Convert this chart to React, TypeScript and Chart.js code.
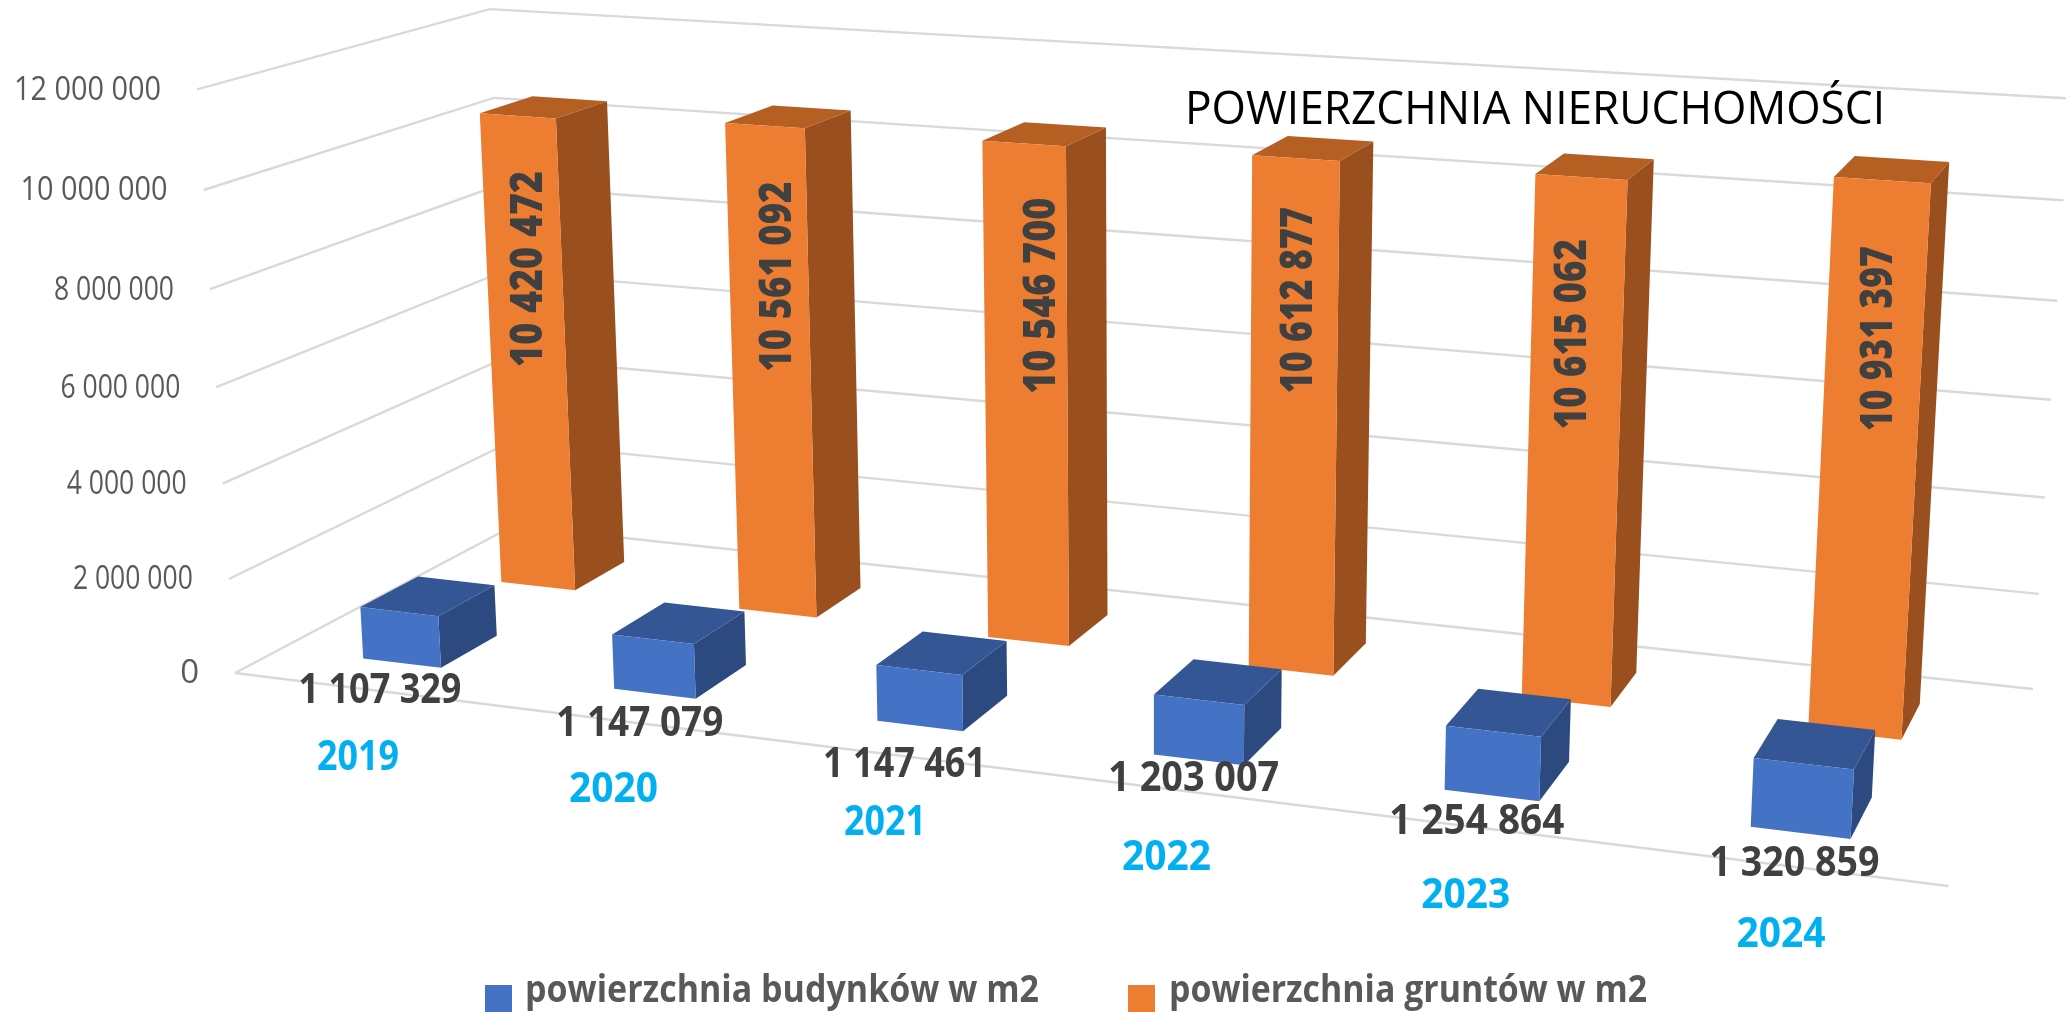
import React, { useEffect, useRef } from "react";
import { Chart, registerables } from "chart.js";

Chart.register(...registerables);

const categories = ["2019", "2020", "2021", "2022", "2023", "2024"];
const budynki = [1107329, 1147079, 1147461, 1203007, 1254864, 1320859];
const grunty = [10420472, 10561092, 10546700, 10612877, 10615062, 10931397];
const seriesNames = ["powierzchnia budynków w m2", "powierzchnia gruntów w m2"];
const titleText = "POWIERZCHNIA NIERUCHOMOŚCI";

const FONT = '"Open Sans", sans-serif';
const GRID = "#D9D9D9";
const FACES = [
  { front: "#4472C4", side: "#2C4A80", top: "#345694" },
  { front: "#ED7D31", side: "#9A501E", top: "#B55F23" },
];

// Perspective frame: floor corners on screen, and where verticals converge.
const FL = [235, 673], FR = [1948.6, 886], BR = [2033, 689], BL = [513, 526];
const VP = [1153, 14772];
const TOP_FL = [197, 89];
const RIGHT_LIFT = 3.5;
const BAR_SHIFT = -0.001;
// depth range of each row on the floor (0 = front, 1 = back)
const ROWS = [[0.15, 0.35], [0.65, 0.85]];
// hand-read placement of labels against their bars
const LOW_LABEL_OFFSET = [[-22, 28], [-15, 30], [-15.5, 39], [-5, 19], [-15, 27], [-6, 31]];
const LOW_LABEL_WIDTH = [163, 167, 163, 171, 175, 170];
const TALL_LABEL_OFFSET = [[1.5, -86], [7, -97], [16, -101], [6, -119], [-0.5, -110], [11.5, -124]];
const TALL_LABEL_WIDTH = [196, 190, 196, 186, 190, 185];
const CATEGORY_LABEL_DX = [2, 0.5, 2, -0.5, 0, 0];
const CATEGORY_LABEL_WIDTH = [82, 89, 82, 89, 89, 89];

function makeProjector() {
  const [x0, y0] = FL, [x1, y1] = FR, [x2, y2] = BR, [x3, y3] = BL;
  const dx1 = x1 - x2, dx2 = x3 - x2, sx = x0 - x1 + x2 - x3;
  const dy1 = y1 - y2, dy2 = y3 - y2, sy = y0 - y1 + y2 - y3;
  const den = dx1 * dy2 - dx2 * dy1;
  const g = (sx * dy2 - dx2 * sy) / den;
  const h = (dx1 * sy - sx * dy1) / den;
  const a = x1 - x0 + g * x1, b = x3 - x0 + h * x3, c = x0;
  const d = y1 - y0 + g * y1, e = y3 - y0 + h * y3, f = y0;
  const s = (TOP_FL[0] - x0) / (VP[0] - TOP_FL[0]);
  return (u: number, w: number, v: number) => {
    const q = g * u + h * w + 1 + v * s;
    return [
      (a * u + b * w + c + v * s * VP[0]) / q,
      (d * u + e * w + f + v * s * VP[1]) / q - RIGHT_LIFT * u * v,
    ];
  };
}
const project = makeProjector();

function poly(ctx: CanvasRenderingContext2D, pts: number[][], color: string) {
  ctx.fillStyle = color;
  ctx.beginPath();
  pts.forEach((p, i) => (i ? ctx.lineTo(p[0], p[1]) : ctx.moveTo(p[0], p[1])));
  ctx.closePath();
  ctx.fill();
}

function line(ctx: CanvasRenderingContext2D, pts: number[][]) {
  ctx.beginPath();
  pts.forEach((p, i) => (i ? ctx.lineTo(p[0], p[1]) : ctx.moveTo(p[0], p[1])));
  ctx.stroke();
}

function text(
  ctx: CanvasRenderingContext2D, s: string, x: number, y: number, font: string,
  color: string, align: CanvasTextAlign, baseline: CanvasTextBaseline, maxW: number,
) {
  ctx.font = font;
  ctx.fillStyle = color;
  ctx.textAlign = align;
  ctx.textBaseline = baseline;
  ctx.fillText(s, x, y, maxW);
}

const fmt = (n: number) => String(n).replace(/\B(?=(\d{3})+$)/g, " ");

const perspective3D = {
  id: "perspective3D",
  beforeDatasetsDraw(chart: any) {
    const ctx: CanvasRenderingContext2D = chart.ctx;
    const xs = chart.scales.x, ys = chart.scales.y;
    const toU = (px: number) => (px - xs.left) / xs.width + BAR_SHIFT;
    const toV = (px: number) => (ys.bottom - px) / ys.height;

    ctx.save();
    // walls and floor
    ctx.strokeStyle = GRID;
    ctx.lineWidth = 2.4;
    ys.ticks.forEach((t: any) => {
      const v = toV(ys.getPixelForValue(t.value));
      line(ctx, [project(0, 0, v), project(0, 1, v), project(1, 1, v)]);
      const p = project(0, 0, v);
      text(ctx, fmt(t.value), p[0] - 36, p[1] + 1, `400 33px ${FONT}`, "#595959", "right", "middle", t.value >= 10000000 ? 147 : 120);
    });
    line(ctx, [project(0, 0, 0), project(1, 0, 0)]);

    // bars, back row first
    [1, 0].forEach((di) => {
      const meta = chart.getDatasetMeta(di);
      const [w0, w1] = ROWS[di];
      const col = FACES[di];
      meta.data.forEach((el: any) => {
        const u0 = toU(el.x - el.width / 2), u1 = toU(el.x + el.width / 2);
        const v = toV(el.y), b = toV(el.base);
        poly(ctx, [project(u1, w0, b), project(u1, w1, b), project(u1, w1, v), project(u1, w0, v)], col.side);
        poly(ctx, [project(u0, w0, v), project(u1, w0, v), project(u1, w1, v), project(u0, w1, v)], col.top);
        poly(ctx, [project(u0, w0, b), project(u1, w0, b), project(u1, w0, v), project(u0, w0, v)], col.front);
      });
    });

    // value labels
    chart.getDatasetMeta(1).data.forEach((el: any, i: number) => {
      const p = project(toU(el.x), ROWS[1][0], toV(el.y) / 2);
      ctx.save();
      ctx.translate(p[0] + TALL_LABEL_OFFSET[i][0], p[1] + TALL_LABEL_OFFSET[i][1]);
      ctx.rotate(-Math.PI / 2);
      text(ctx, fmt(chart.data.datasets[1].data[i]), 0, 0, `800 44px ${FONT}`, "#404040", "center", "middle", TALL_LABEL_WIDTH[i]);
      ctx.restore();
    });
    chart.getDatasetMeta(0).data.forEach((el: any, i: number) => {
      const p = project(toU(el.x), ROWS[0][0], 0);
      text(ctx, fmt(chart.data.datasets[0].data[i]), p[0] + LOW_LABEL_OFFSET[i][0], p[1] + LOW_LABEL_OFFSET[i][1], `700 42px ${FONT}`, "#404040", "center", "middle", LOW_LABEL_WIDTH[i]);
    });

    // category labels
    chart.data.labels.forEach((lab: string, i: number) => {
      const p = project(toU(xs.getPixelForValue(i)), 0, 0);
      text(ctx, lab, p[0] - 1.5 + CATEGORY_LABEL_DX[i], p[1] + 69.5, `700 42px ${FONT}`, "#00B0F0", "center", "middle", CATEGORY_LABEL_WIDTH[i]);
    });

    // title
    text(ctx, titleText, 1185, 124, `400 46px ${FONT}`, "#000000", "left", "alphabetic", 700);

    // legend
    const legendX = [[485, 525, 514], [1128, 1169, 478]];
    chart.data.datasets.forEach((ds: any, i: number) => {
      const [bx, tx, tw] = legendX[i];
      ctx.fillStyle = ds.backgroundColor;
      ctx.fillRect(bx, 985, 27, 27);
      text(ctx, ds.label, tx, 1002, `700 38px ${FONT}`, "#595959", "left", "alphabetic", tw);
    });
    ctx.restore();
    return false;
  },
};

export default function App() {
  const ref = useRef<HTMLCanvasElement>(null);
  useEffect(() => {
    const chart = new Chart(ref.current as HTMLCanvasElement, {
      type: "bar",
      data: {
        labels: categories,
        datasets: [
          { label: seriesNames[0], data: budynki, backgroundColor: FACES[0].front },
          { label: seriesNames[1], data: grunty, backgroundColor: FACES[1].front },
        ],
      },
      options: {
        responsive: false,
        animation: false,
        grouped: false,
        barPercentage: 0.315,
        categoryPercentage: 1,
        layout: { padding: 0 },
        plugins: { legend: { display: false }, title: { display: false }, tooltip: { enabled: false } },
        scales: {
          x: { display: false },
          y: { display: false, min: 0, max: 12000000, ticks: { stepSize: 2000000 } },
        },
      } as any,
      plugins: [perspective3D],
    });
    return () => chart.destroy();
  }, []);
  return (
    <div style={{ position: "fixed", left: 0, top: 0, width: 2066, height: 1012, overflow: "hidden", background: "#fff" }}>
      <canvas ref={ref} width={2066} height={1012} style={{ display: "block" }} />
    </div>
  );
}
